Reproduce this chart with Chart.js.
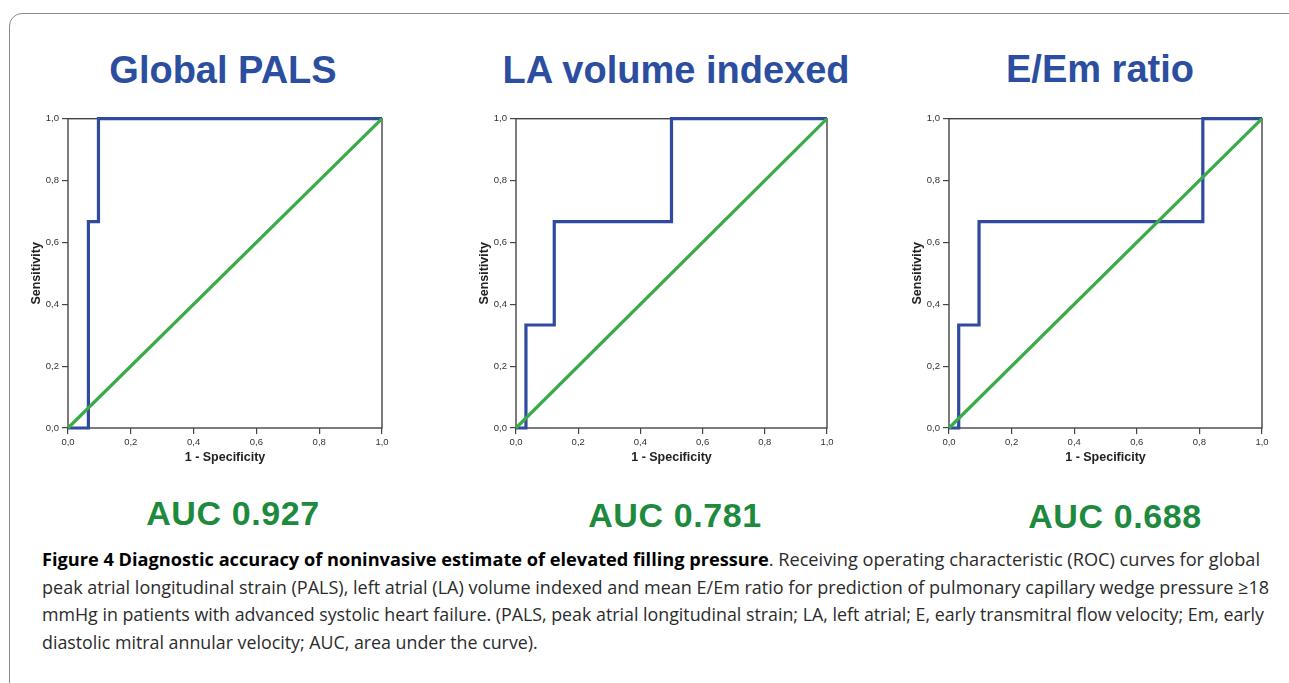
<!DOCTYPE html>
<html lang="en">
<head>
    <meta charset="UTF-8">
    <title>ROC curves - Figure 4</title>
    <script src="https://cdn.jsdelivr.net/npm/chart.js"></script>
    <style>
        html, body {
            margin: 0;
            padding: 0;
            background: #fff;
            width: 1289px;
            height: 683px;
            overflow: hidden;
            font-family: "Liberation Sans", Arial, sans-serif;
        }
        .frame {
            position: absolute;
            left: 9px;
            top: 13px;
            width: 1300px;
            height: 720px;
            border: 1.5px solid #8c8c8c;
            border-radius: 13px;
        }
        canvas {
            position: absolute;
        }
        .title {
            position: absolute;
            width: 400px;
            text-align: center;
            font-size: 38px;
            line-height: 38px;
            font-weight: bold;
            color: #2c4ea1;
        }
        .auc {
            position: absolute;
            width: 300px;
            text-align: center;
            font-size: 34px;
            line-height: 34px;
            font-weight: bold;
            letter-spacing: 0.6px;
            color: #1d8a3d;
        }
        .caption {
            position: absolute;
            left: 42px;
            top: 545px;
            font-family: "Open Sans", "Noto Sans", sans-serif;
            font-size: 18.5px;
            color: #2b2b2b;
        }
        .caption div {
            white-space: nowrap;
            height: 27.5px;
            line-height: 27.5px;
        }
        .caption span.ln {
            display: inline-block;
            transform-origin: 0 0;
        }
        .caption b {
            color: #000;
        }
    </style>
</head>
<body>
    <div class="frame"></div>

    <div class="title" style="left: 23px; top: 51px;">Global PALS</div>
    <div class="title" style="left: 476px; top: 51px;">LA volume indexed</div>
    <div class="title" style="left: 900px; top: 50px;">E/Em ratio</div>

    <canvas id="rocPals" width="372" height="358" style="left: 20px; top: 110px;"></canvas>
    <canvas id="rocLa" width="369" height="358" style="left: 468px; top: 110px;"></canvas>
    <canvas id="rocEe" width="371" height="358" style="left: 901px; top: 110px;"></canvas>

    <div class="auc" id="aucPals" style="left: 83px; top: 496px;"></div>
    <div class="auc" id="aucLa" style="left: 525px; top: 498px;"></div>
    <div class="auc" id="aucEe" style="left: 965px; top: 499px;"></div>

    <div class="caption">
        <div><span class="ln"><b>Figure 4 Diagnostic accuracy of noninvasive estimate of elevated filling pressure</b>. Receiving operating characteristic (ROC) curves for global</span></div>
        <div><span class="ln">peak atrial longitudinal strain (PALS), left atrial (LA) volume indexed and mean E/Em ratio for prediction of pulmonary capillary wedge pressure ≥18</span></div>
        <div><span class="ln">mmHg in patients with advanced systolic heart failure. (PALS, peak atrial longitudinal strain; LA, left atrial; E, early transmitral flow velocity; Em, early</span></div>
        <div><span class="ln">diastolic mitral annular velocity; AUC, area under the curve).</span></div>
    </div>

    <script>
        // ROC step curves (x = 1 - specificity, y = sensitivity)
        const palsFpr = [0, 0.065, 0.065, 0.097, 0.097, 1];
        const palsSens = [0, 0, 0.667, 0.667, 1, 1];

        const laFpr = [0, 0.032, 0.032, 0.123, 0.123, 0.5, 0.5, 1];
        const laSens = [0, 0, 0.333, 0.333, 0.667, 0.667, 1, 1];

        const eeFpr = [0, 0.031, 0.031, 0.096, 0.096, 0.811, 0.811, 1];
        const eeSens = [0, 0, 0.333, 0.333, 0.667, 0.667, 1, 1];

        // reference (chance) line
        const refX = [0, 1];
        const refY = [0, 1];

        const tickLabels = ['0,0', '0,2', '0,4', '0,6', '0,8', '1,0'];
        const aucValues = ['AUC 0.927', 'AUC 0.781', 'AUC 0.688'];

        document.getElementById('aucPals').textContent = aucValues[0];
        document.getElementById('aucLa').textContent = aucValues[1];
        document.getElementById('aucEe').textContent = aucValues[2];

        const toPoints = (xs, ys) => xs.map((x, i) => ({ x: x, y: ys[i] }));

        // draws the box round the plot area
        const boxPlugin = {
            id: 'box',
            beforeDatasetsDraw(chart) {
                const a = chart.chartArea;
                const c = chart.ctx;
                c.save();
                c.strokeStyle = '#454545';
                c.lineWidth = 1.4;
                c.strokeRect(a.left, a.top, a.right - a.left, a.bottom - a.top);
                c.restore();
            }
        };

        const tickFont = { family: '"Liberation Sans", Arial, sans-serif', size: 9.5 };
        const titleFont = { family: '"Liberation Sans", Arial, sans-serif', size: 12.5, weight: 'bold' };

        function makeRoc(id, fpr, sens) {
            const ctx = document.getElementById(id).getContext('2d');
            return new Chart(ctx, {
                type: 'scatter',
                data: {
                    datasets: [
                        {
                            data: toPoints(refX, refY),
                            showLine: true,
                            borderColor: '#3aab48',
                            borderWidth: 3.2,
                            pointRadius: 0,
                            order: 0,
                            clip: 4
                        },
                        {
                            data: toPoints(fpr, sens),
                            showLine: true,
                            borderColor: '#2f4a9e',
                            borderWidth: 3.2,
                            borderJoinStyle: 'miter',
                            pointRadius: 0,
                            order: 1,
                            clip: 4
                        }
                    ]
                },
                options: {
                    responsive: false,
                    animation: false,
                    layout: { padding: { top: 7, right: 10, left: 0, bottom: 0 } },
                    plugins: {
                        legend: { display: false },
                        tooltip: { enabled: false }
                    },
                    scales: {
                        x: {
                            type: 'linear',
                            min: 0,
                            max: 1,
                            afterFit: s => { s.height = 40; },
                            afterBuildTicks: s => { s.ticks = tickLabels.map((t, i) => ({ value: i * 0.2 })); },
                            ticks: {
                                callback: (v, i) => tickLabels[i],
                                color: '#333',
                                font: tickFont,
                                padding: 3,
                                maxRotation: 0
                            },
                            grid: { drawOnChartArea: false, tickLength: 6, color: '#454545', lineWidth: 1.2 },
                            border: { display: false },
                            title: {
                                display: true,
                                text: '1 - Specificity',
                                color: '#222',
                                font: titleFont,
                                padding: { top: 0, bottom: 3 }
                            }
                        },
                        y: {
                            type: 'linear',
                            min: 0,
                            max: 1,
                            afterFit: s => { s.width = 48; },
                            afterBuildTicks: s => { s.ticks = tickLabels.map((t, i) => ({ value: i * 0.2 })); },
                            ticks: {
                                callback: (v, i) => tickLabels[i],
                                color: '#333',
                                font: tickFont,
                                padding: 3
                            },
                            grid: { drawOnChartArea: false, tickLength: 6, color: '#454545', lineWidth: 1.2 },
                            border: { display: false },
                            title: {
                                display: true,
                                text: 'Sensitivity',
                                color: '#222',
                                font: titleFont,
                                padding: { top: 9, bottom: 0 }
                            }
                        }
                    }
                },
                plugins: [boxPlugin]
            });
        }

        makeRoc('rocPals', palsFpr, palsSens);
        makeRoc('rocLa', laFpr, laSens);
        makeRoc('rocEe', eeFpr, eeSens);

        // stretch caption lines to the widths of the printed caption
        const lineWidths = [1218, 1227, 1222];
        const lines = document.querySelectorAll('.caption span.ln');
        let lastScale = 1;
        lines.forEach((el, i) => {
            const w = el.getBoundingClientRect().width;
            const scale = i < lineWidths.length ? lineWidths[i] / w : lastScale;
            lastScale = scale;
            el.style.transform = 'scaleX(' + scale + ')';
        });
    </script>
</body>
</html>
